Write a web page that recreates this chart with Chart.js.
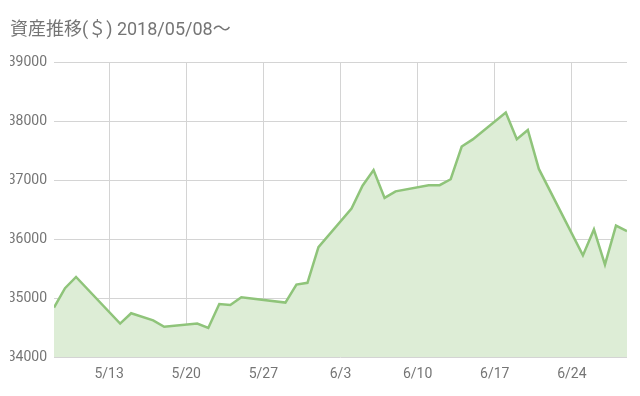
<!DOCTYPE html>
<html>
<head>
<meta charset="utf-8">
<script src="https://cdn.jsdelivr.net/npm/chart.js@4"></script>
<style>
    html, body { margin: 0; padding: 0; background: #ffffff; }
    #wrap { width: 640px; height: 396px; }
</style>
</head>
<body>
<div id="wrap"><canvas id="assetChart" width="640" height="396"></canvas></div>
<script>
// Day offset from 2018/05/08 and asset value ($)
const days = [0, 1, 2, 6, 7, 9, 10, 13, 14, 15, 16, 17, 21, 22, 23, 24, 27, 28, 29, 30,
    31, 34, 35, 36, 37, 38, 41, 42, 43, 44, 48, 49, 50, 51, 52];
const values = [34840, 35170, 35360, 34570, 34745, 34625, 34515, 34570, 34495, 34900,
    34885, 35015, 34925, 35230, 35260, 35865, 36520, 36905, 37170, 36700,
    36810, 36915, 36915, 37015, 37570, 37690, 38145, 37695, 37850, 37190,
    35725, 36165, 35570, 36230, 36135];

// X axis ticks (day offsets) and their labels
const tickDays = [5, 12, 19, 26, 33, 40, 47];
const tickLabels = ['5/13', '5/20', '5/27', '6/3', '6/10', '6/17', '6/24'];

const FONT = "Roboto, 'Noto Sans CJK JP', sans-serif";
const TEXT_COLOR = '#757575';

function initChart() {
    const ctx = document.getElementById('assetChart').getContext('2d');
    const points = days.map((d, i) => ({ x: d, y: values[i] }));

    new Chart(ctx, {
        type: 'line',
        data: {
            datasets: [{
                label: '資産',
                data: points,
                borderColor: 'rgb(143,196,122)',
                backgroundColor: 'rgb(221,237,214)',
                borderWidth: 2.5,
                pointRadius: 0,
                tension: 0,
                fill: 'start'
            }]
        },
        options: {
            responsive: false,
            animation: false,
            layout: {
                padding: { left: 10, right: 13, top: 0, bottom: 4 }
            },
            plugins: {
                legend: { display: false },
                tooltip: { enabled: false },
                title: {
                    display: true,
                    text: '資産推移(＄) 2018/05/08〜',
                    align: 'start',
                    color: TEXT_COLOR,
                    font: { family: FONT, size: 18, weight: 'normal' },
                    padding: { top: 19.5, bottom: 21 }
                }
            },
            scales: {
                x: {
                    type: 'linear',
                    min: 0,
                    max: 52,
                    afterBuildTicks: scale => {
                        scale.ticks = tickDays.map(v => ({ value: v }));
                    },
                    ticks: {
                        color: TEXT_COLOR,
                        font: { family: FONT, size: 14 },
                        padding: 9,
                        maxRotation: 0,
                        callback: value => tickLabels[tickDays.indexOf(value)]
                    },
                    grid: { color: '#d4d4d4', lineWidth: 1, drawTicks: false },
                    border: { display: false }
                },
                y: {
                    min: 34000,
                    max: 39000,
                    afterFit: scale => { scale.width = 44; },
                    ticks: {
                        stepSize: 1000,
                        color: TEXT_COLOR,
                        font: { family: FONT, size: 14 },
                        padding: 7,
                        callback: value => String(value)
                    },
                    grid: { color: '#d4d4d4', lineWidth: 1, drawTicks: false },
                    border: { display: false }
                }
            }
        }
    });
}

initChart();
</script>
</body>
</html>
